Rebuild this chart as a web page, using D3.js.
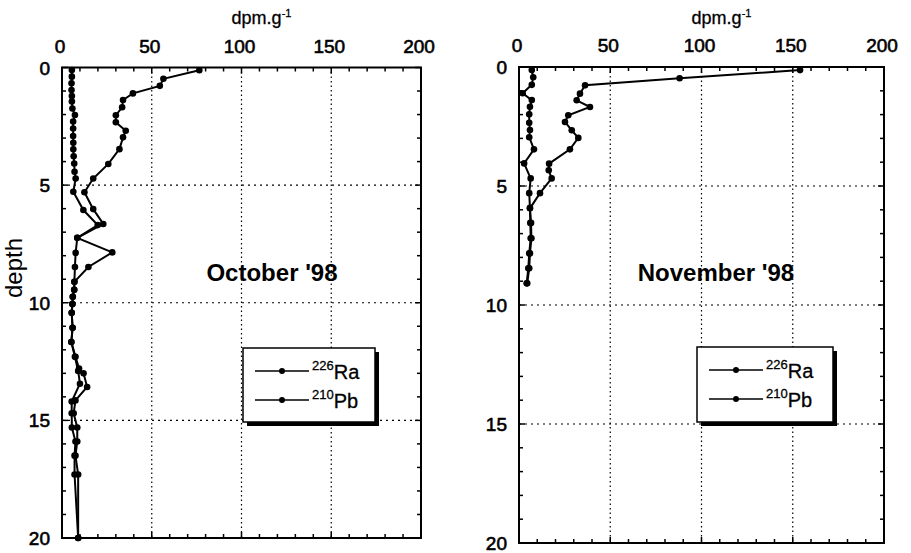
<!DOCTYPE html>
<html><head><meta charset="utf-8">
<script src="https://cdn.jsdelivr.net/npm/d3@7"></script>
<style>body{margin:0;background:#fff}svg{display:block}text{font-family:"Liberation Sans",Arial,sans-serif;fill:#000}</style>
</head><body><svg id="c" width="911" height="553"></svg>
<script>
const xTicks = [0, 50, 100, 150, 200];
const yTicks = [0, 5, 10, 15, 20];
const legendLabels = [["226", "Ra"], ["210", "Pb"]];
const panelTitles = ["October '98", "November '98"];

const octPbDepth = [0.12,0.48,0.78,1.1,1.38,1.69,2.03,2.33,2.69,2.97,3.47,4.1,4.72,5.3,6.02,6.65,7.24,7.86,8.48,9.11,9.45,9.75,10.05,10.43,11.06,11.67,12.3,12.8,13.0,13.58,14.15,14.7,15.3,15.9,16.5,17.3,20];
const octPb = [76.5,56.5,54.5,39.5,34,33.5,30,30,35.5,34,32,25.8,17.4,12.5,17.4,23,8.5,28,14.7,6.9,6.8,6,5.8,5.4,5.9,5.2,7.5,9.5,12,14,7.5,6.5,8.5,8.5,7.5,9,9];
const octRaDepth = [0.11,0.39,0.67,0.96,1.21,1.45,1.74,2.02,2.3,2.59,2.91,3.2,3.48,3.77,4.08,4.43,4.72,5.28,6.06,6.7,7.24,7.88,8.48,9.11,9.45,9.75,10.05,10.43,11.06,11.67,12.3,12.9,13.44,14.2,14.7,15.3,15.9,16.5,17.3,20];
const octRa = [5.5,5.5,5.3,5.3,5.5,5.5,5.8,7.2,6.2,6.2,6.2,6.3,6.3,6.5,6.8,7,7.6,6.3,11.9,19.9,8.5,7.6,7.2,6.9,6.8,6,5.8,5.4,5.9,5.2,7.2,9,10,5.4,5.4,5.5,7.5,7,7,9];

const novPbDepth = [0.13,0.47,0.77,1.12,1.4,1.68,2.03,2.31,2.66,2.98,3.46,4.06,4.34,4.68,5.3,5.94,6.55,7.2,7.83,8.46,9.09];
const novPb = [154,88,36.2,33.4,31.6,38.9,27,25.2,28.9,32.5,27.9,16.5,16.3,17.9,11.5,6,6.6,6.8,6,5.6,4.5];
const novRaDepth = [0.13,0.43,0.75,1.1,1.39,1.67,1.99,2.34,2.65,2.95,3.46,4.05,4.68,5.3,5.92,6.55,7.2,7.83,8.46,9.09];
const novRa = [7,7.8,7,2,7,6,5.6,5.6,6,5.6,8.2,2.8,6.4,5.6,6,6.2,6.4,5.6,5.1,4.2];

const svg = d3.select("#c");
const panels = [
  {x0:62, x1:421, y0:67.5, y1:538, title:panelTitles[0], tx:272, ty:281,
   series:[[octRaDepth,octRa],[octPbDepth,octPb]], leg:{x:243,y:348,w:132,h:74}},
  {x0:519, x1:884, y0:67, y1:543, title:panelTitles[1], tx:716, ty:281,
   series:[[novRaDepth,novRa],[novPbDepth,novPb]], leg:{x:697,y:347,w:136,h:75}}
];

panels.forEach((p, pi) => {
  const x = d3.scaleLinear().domain([0,200]).range([p.x0,p.x1]);
  const y = d3.scaleLinear().domain([0,20]).range([p.y0,p.y1]);
  const g = svg.append("g");

  // grid
  g.selectAll(".gx").data(xTicks.slice(1,-1)).join("line")
    .attr("x1",d=>x(d)).attr("x2",d=>x(d)).attr("y1",p.y0).attr("y2",p.y1)
    .attr("stroke","#000").attr("stroke-width",1.2).attr("stroke-dasharray","1.5,3");
  g.selectAll(".gy").data(yTicks.slice(1,-1)).join("line")
    .attr("y1",d=>y(d)).attr("y2",d=>y(d)).attr("x1",p.x0).attr("x2",p.x1)
    .attr("stroke","#000").attr("stroke-width",1.2).attr("stroke-dasharray","2,4");

  // minor ticks
  const xt = d3.range(0,201,10), yt = d3.range(0,21,1);
  xt.forEach(v => {
    const L = v%50===0 ? 6 : 4;
    g.append("line").attr("x1",x(v)).attr("x2",x(v)).attr("y1",p.y0).attr("y2",p.y0+L).attr("stroke","#000").attr("stroke-width",1.5);
    g.append("line").attr("x1",x(v)).attr("x2",x(v)).attr("y1",p.y1).attr("y2",p.y1-L).attr("stroke","#000").attr("stroke-width",1.5);
  });
  yt.forEach(v => {
    const L = v%5===0 ? 6 : 4;
    g.append("line").attr("y1",y(v)).attr("y2",y(v)).attr("x1",p.x0).attr("x2",p.x0+L).attr("stroke","#000").attr("stroke-width",1.5);
    g.append("line").attr("y1",y(v)).attr("y2",y(v)).attr("x1",p.x1).attr("x2",p.x1-L).attr("stroke","#000").attr("stroke-width",1.5);
  });

  // frame
  g.append("rect").attr("x",p.x0).attr("y",p.y0).attr("width",p.x1-p.x0).attr("height",p.y1-p.y0)
    .attr("fill","none").attr("stroke","#000").attr("stroke-width",2);

  // tick labels
  g.selectAll(".xl").data(xTicks).join("text")
    .attr("x",d=>x(d)-2).attr("y",p.y0-15).attr("text-anchor","middle")
    .attr("font-size",19).attr("stroke","#000").attr("stroke-width",0.6).text(d=>d);
  g.selectAll(".yl").data(yTicks).join("text")
    .attr("x",p.x0-12).attr("y",d=>y(d)+7).attr("text-anchor","end")
    .attr("font-size",19).attr("stroke","#000").attr("stroke-width",0.6).text(d=>d);

  // unit label
  const ut = g.append("text").attr("x",(p.x0+p.x1)/2+20).attr("y",24).attr("text-anchor","middle")
    .attr("font-size",18).attr("stroke","#000").attr("stroke-width",0.3);
  ut.append("tspan").text("dpm.g");
  ut.append("tspan").attr("font-size",11).attr("dy",-7).text("-1");

  // series
  const line = d3.line().x(d=>x(d[1])).y(d=>y(d[0]));
  p.series.forEach(([dep, val]) => {
    const pts = dep.map((d,i)=>[d,val[i]]);
    g.append("path").datum(pts).attr("d",line).attr("fill","none").attr("stroke","#000").attr("stroke-width",2);
    g.selectAll(null).data(pts).join("circle").attr("cx",d=>x(d[1])).attr("cy",d=>y(d[0])).attr("r",3.3).attr("fill","#000");
  });

  // title
  g.append("text").attr("x",p.tx).attr("y",p.ty).attr("text-anchor","middle")
    .attr("font-size",24).attr("font-weight","bold").text(p.title);

  // legend
  const L = p.leg;
  g.append("rect").attr("x",L.x+4).attr("y",L.y+4).attr("width",L.w).attr("height",L.h).attr("fill","#000");
  g.append("rect").attr("x",L.x).attr("y",L.y).attr("width",L.w).attr("height",L.h).attr("fill","#fff").attr("stroke","#000").attr("stroke-width",1.5);
  legendLabels.forEach((lab, i) => {
    const ry = L.y + 23 + i*29;
    g.append("line").attr("x1",L.x+12).attr("x2",L.x+66).attr("y1",ry).attr("y2",ry).attr("stroke","#000").attr("stroke-width",1.5);
    g.append("circle").attr("cx",L.x+39).attr("cy",ry).attr("r",3).attr("fill","#000");
    const t = g.append("text").attr("x",L.x+69).attr("y",ry+8).attr("font-size",20).attr("stroke","#000").attr("stroke-width",0.3);
    t.append("tspan").attr("font-size",13).attr("dy",-9).text(lab[0]);
    t.append("tspan").attr("dy",9).text(lab[1]);
  });
});

// depth label
svg.append("text").attr("transform","translate(22,268) rotate(-90)").attr("text-anchor","middle")
  .attr("font-size",24).text("depth");
</script></body></html>
